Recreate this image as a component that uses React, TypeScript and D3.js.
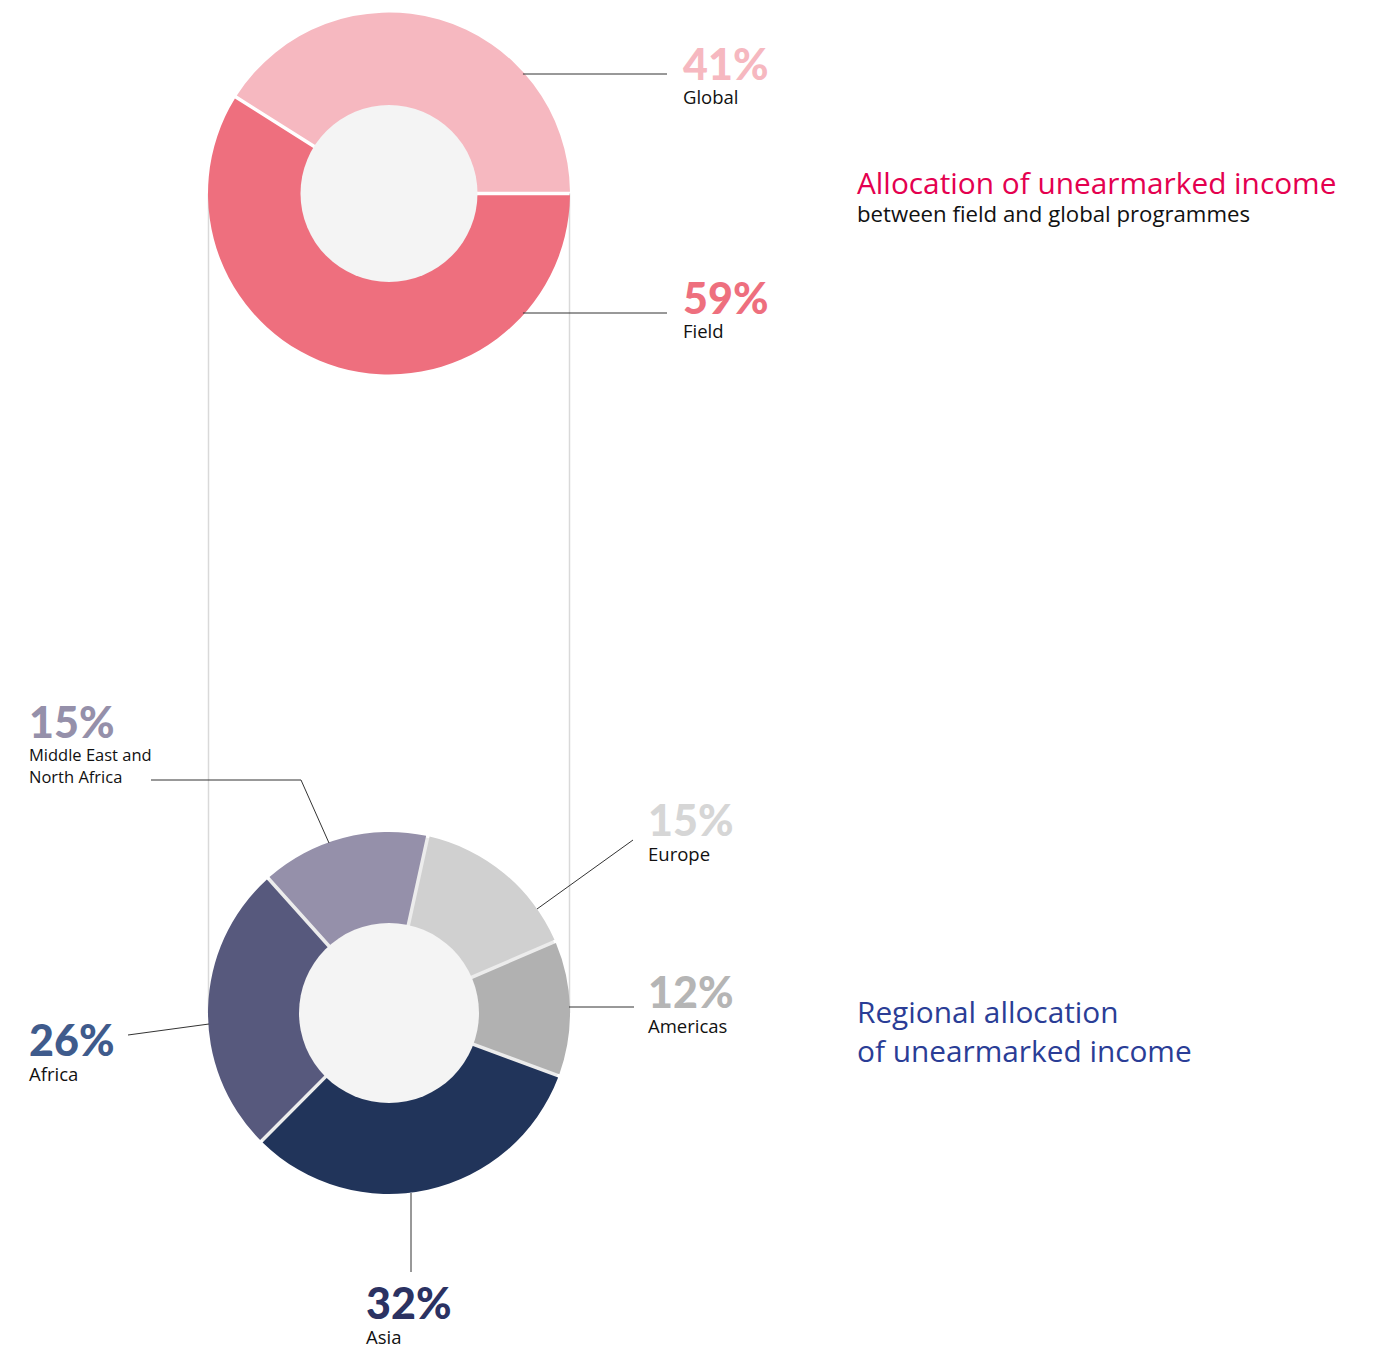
import React from "react";
import * as d3 from "d3";

const topCategories = ["Field", "Global"];
const topValues = [59, 41];
const topColors = ["#ee6f7e", "#f6b8c0"];
const topLabelColors = ["#ee6f7e", "#f6b8c0"];

const regionCategories = ["Europe", "Americas", "Asia", "Africa", "Middle East and North Africa"];
const regionValues = [15, 12, 32, 26, 15];
const regionColors = ["#d0d0d0", "#b1b1b1", "#21345a", "#57597d", "#9590aa"];
const regionLabelColors = ["#d6d6d6", "#b5b5b5", "#2b3262", "#3f5b8c", "#9590aa"];

const NUM_FONT = "Lato, sans-serif";
const FONT = "'Open Sans', Lato, sans-serif";
const W = 1379;
const H = 1347;

const topCenter = { x: 389, y: 193.5 };
const botCenter = { x: 389, y: 1013 };
const outerR = 181;
const topInner = 88.5;
const botInner = 90;
const gap = 3.5;

// label layout (positions only)
const topLayout = [
  { x: 683, py: 314, ly: 338, lineY: 313, lineEnd: 667 },
  { x: 683, py: 80, ly: 104, lineY: 74, lineEnd: 667 },
];

const botLayout = [
  { px: 648, py: 836, lines: ["Europe"], leader: [[537, 909], [633, 840]] },
  { px: 648, py: 1008, lines: ["Americas"], leader: [[569, 1007], [634, 1007]] },
  { px: 366, py: 1319, lines: ["Asia"], leader: [[411, 1193], [411, 1272]] },
  { px: 29, py: 1056, lines: ["Africa"], leader: [[209, 1024], [128, 1035]] },
  { px: 29, py: 738, lines: ["Middle East and", "North Africa"], leader: [[329, 843], [301, 780], [151, 780]] },
];

export default function App() {
  const topPie = d3
    .pie<number>()
    .sort(null)
    .startAngle(Math.PI / 2)
    .endAngle(Math.PI / 2 + 2 * Math.PI)
    .padAngle(gap / outerR)(topValues);
  const topArc = d3
    .arc<d3.PieArcDatum<number>>()
    .innerRadius(topInner - 2)
    .outerRadius(outerR)
    .padRadius(outerR);

  const start = (12.4 * Math.PI) / 180;
  const botPie = d3
    .pie<number>()
    .sort(null)
    .startAngle(start)
    .endAngle(start + 2 * Math.PI)
    .padAngle(gap / outerR)(regionValues);
  const botArc = d3
    .arc<d3.PieArcDatum<number>>()
    .innerRadius(botInner - 2)
    .outerRadius(outerR)
    .padRadius(outerR);
  const line = d3.line();

  return (
    <svg
      width={W}
      height={H}
      style={{ position: "absolute", left: 0, top: 0, background: "#fff" }}
      fontFamily={FONT}
    >
      {/* connecting vertical lines */}
      <line x1={topCenter.x - outerR + 0.5} x2={botCenter.x - outerR + 0.5} y1={topCenter.y} y2={botCenter.y} stroke="#d9d9d9" strokeWidth={1.5} />
      <line x1={topCenter.x + outerR - 0.5} x2={botCenter.x + outerR - 0.5} y1={topCenter.y} y2={botCenter.y} stroke="#d9d9d9" strokeWidth={1.5} />

      {/* top donut */}
      <g transform={`translate(${topCenter.x},${topCenter.y})`}>
        <circle r={outerR - 1} fill="#ffffff" />
        {topPie.map((d, i) => (
          <path key={i} d={topArc(d) || ""} fill={topColors[i]} />
        ))}
        <circle r={topInner} fill="#f4f4f4" />
      </g>
      {topLayout.map((l, i) => (
        <g key={i}>
          <line
            x1={topCenter.x + Math.sqrt(outerR * outerR - (l.lineY - topCenter.y) ** 2) - 2}
            x2={l.lineEnd}
            y1={l.lineY}
            y2={l.lineY}
            stroke="#333"
            strokeWidth={1}
          />
          <text x={l.x} y={l.py} fontSize={43} fontWeight={900} fontFamily={NUM_FONT} fill={topLabelColors[i]}>
            {topValues[i]}%
          </text>
          <text x={l.x} y={l.ly} fontSize={18.5} fill="#111">
            {topCategories[i]}
          </text>
        </g>
      ))}

      {/* bottom donut */}
      <g transform={`translate(${botCenter.x},${botCenter.y})`}>
        <circle r={outerR - 1.5} fill="#ececec" />
        {botPie.map((d, i) => (
          <path key={i} d={botArc(d) || ""} fill={regionColors[i]} />
        ))}
        <circle r={botInner} fill="#f4f4f4" />
      </g>
      {botLayout.map((l, i) => (
        <g key={i}>
          <path d={line(l.leader as [number, number][]) || ""} fill="none" stroke="#333" strokeWidth={1} />
          <text x={l.px} y={l.py} fontSize={43} fontWeight={900} fontFamily={NUM_FONT} fill={regionLabelColors[i]}>
            {regionValues[i]}%
          </text>
          {l.lines.map((t, j) => (
            <text
              key={j}
              x={l.px}
              y={l.py + (l.lines.length > 1 ? 23 : 25) + j * 22}
              fontSize={l.lines.length > 1 ? 16.5 : 18.5}
              fill="#111"
            >
              {t}
            </text>
          ))}
        </g>
      ))}

      {/* titles */}
      <text x={857} y={194} fontSize={29.8} fill="#e4004f">
        Allocation of unearmarked income
      </text>
      <text x={857} y={222} fontSize={22.2} fill="#111">
        between field and global programmes
      </text>
      <text x={857} y={1023} fontSize={29.8} fill="#2a3d96">
        Regional allocation
      </text>
      <text x={857} y={1062} fontSize={29.8} fill="#2a3d96">
        of unearmarked income
      </text>
    </svg>
  );
}
